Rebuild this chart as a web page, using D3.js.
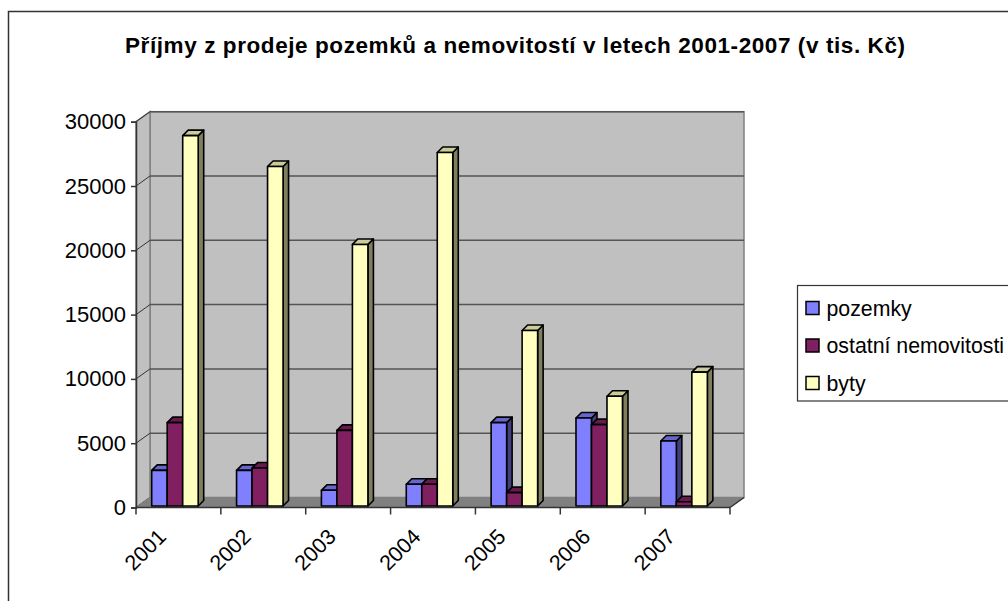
<!DOCTYPE html>
<html><head><meta charset="utf-8">
<script src="https://cdn.jsdelivr.net/npm/d3@7"></script>
<style>html,body{margin:0;padding:0;background:#fff;}svg{display:block;font-family:"Liberation Sans",Arial,sans-serif;}</style>
</head><body>
<svg id="c" width="1008" height="601"></svg>
<script>
const title = "Příjmy z prodeje pozemků a nemovitostí v letech 2001-2007 (v tis. Kč)";
const categories = ["2001","2002","2003","2004","2005","2006","2007"];
const seriesNames = ["pozemky","ostatní nemovitosti","byty"];
const pozemky   = [2770, 2770, 1220, 1690, 6480, 6840, 5050];
const ostatni   = [6480, 2950, 5880, 1690, 1040, 6330, 330];
const byty      = [28800, 26400, 20340, 27490, 13650, 8530, 10410];
const yTicks = [0, 5000, 10000, 15000, 20000, 25000, 30000];

const seriesValues = [pozemky, ostatni, byty];
const colors = [
  {front:"#8080FF", side:"#40407F", top:"#6666CC"},
  {front:"#802060", side:"#401030", top:"#661A4D"},
  {front:"#FFFFC0", side:"#7F7F60", top:"#CCCC9A"}
];

const svg = d3.select("#c");
// outer border
svg.append("rect").attr("x",8.5).attr("y",11.5).attr("width",1100).attr("height",700)
  .attr("fill","#fff").attr("stroke","#333").attr("stroke-width",1.5);

svg.append("text").attr("x",125).attr("y",53)
  .attr("font-weight","bold").attr("font-size",22.5).attr("fill","#000")
  .attr("textLength",780).attr("lengthAdjust","spacing").text(title);

const x0 = 136, x1 = 730;
const wx = 14, wy = -10; // wall depth
const x = d3.scaleBand().domain(categories).range([x0,x1]);
const y = d3.scaleLinear().domain([0,30000]).range([507.5,121.7]);

// back wall
svg.append("rect").attr("x",x0+wx).attr("y",y(30000)+wy).attr("width",x1-x0)
  .attr("height",y(0)-y(30000)).attr("fill","#C0C0C0").attr("stroke","#808080").attr("stroke-width",1.5);
// left wall
svg.append("polygon").attr("points",[[x0,y(30000)],[x0+wx,y(30000)+wy],[x0+wx,y(0)+wy],[x0,y(0)]].join(" "))
  .attr("fill","#C0C0C0").attr("stroke","#808080").attr("stroke-width",1.5);
// gridlines
yTicks.forEach(t=>{
  if(t>0){
    svg.append("line").attr("x1",x0+wx).attr("x2",x1+wx).attr("y1",y(t)+wy).attr("y2",y(t)+wy)
      .attr("stroke","#555").attr("stroke-width",1.5);
  }
  svg.append("line").attr("x1",x0).attr("x2",x0+wx).attr("y1",y(t)).attr("y2",y(t)+wy)
    .attr("stroke","#333").attr("stroke-width",1);
});
// floor
svg.append("polygon").attr("points",[[x0,y(0)],[x0+wx,y(0)+wy],[x1+wx,y(0)+wy],[x1,y(0)]].join(" "))
  .attr("fill","#808080").attr("stroke","#808080").attr("stroke-width",1);
svg.append("line").attr("x1",x1).attr("y1",y(0)).attr("x2",x1+wx).attr("y2",y(0)+wy)
  .attr("stroke","#333").attr("stroke-width",1.5);

// bars
const bw = 15.5, bOff = 15.7, pdx = 0, pdy = -1.5, dx = 5.5, dy = -5.5;
categories.forEach((c,ci)=>{
  seriesValues.forEach((vals,si)=>{
    const v = vals[ci];
    const xl = x(c) + bOff + si*bw + pdx;
    const xr = xl + bw;
    const yb = y(0) + pdy;
    const yt = y(v) + pdy;
    const col = colors[si];
    const g = svg.append("g").attr("stroke","#000").attr("stroke-width",1.6).attr("stroke-linejoin","round");
    g.append("polygon").attr("points",[[xr,yb],[xr+dx,yb+dy],[xr+dx,yt+dy],[xr,yt]].join(" ")).attr("fill",col.side);
    g.append("polygon").attr("points",[[xl,yt],[xl+dx,yt+dy],[xr+dx,yt+dy],[xr,yt]].join(" ")).attr("fill",col.top);
    g.append("rect").attr("x",xl).attr("y",yt).attr("width",bw).attr("height",Math.max(0,yb-yt)).attr("fill",col.front);
  });
});

// y axis
const yAxis = svg.append("g").attr("transform",`translate(${x0},0)`)
  .call(d3.axisLeft(y).tickValues(yTicks).tickSize(5).tickPadding(5).tickFormat(d3.format("d")));
yAxis.select(".domain").attr("stroke","#333").attr("stroke-width",1.5);
yAxis.selectAll(".tick line").attr("stroke","#333").attr("stroke-width",1.5);
yAxis.selectAll("text").attr("font-size",22).attr("fill","#000").attr("font-family","Liberation Sans, Arial, sans-serif");

// x axis
const xg = svg.append("g").attr("transform",`translate(0,${y(0)})`);
xg.append("line").attr("x1",x0).attr("x2",x1).attr("stroke","#333").attr("stroke-width",1.5);
d3.range(categories.length+1).forEach(i=>{
  const tx = x0 + i*x.step();
  xg.append("line").attr("x1",tx).attr("x2",tx).attr("y1",0).attr("y2",7).attr("stroke","#333").attr("stroke-width",1.5);
});
categories.forEach(c=>{
  const cx = x(c) + x.bandwidth()/2 - 11;
  svg.append("text").attr("transform",`translate(${cx},538) rotate(-45)`)
    .attr("text-anchor","end").attr("font-size",21.5).attr("fill","#000").text(c);
});

// legend
const lg = svg.append("g");
lg.append("rect").attr("x",797.5).attr("y",285.5).attr("width",260).attr("height",115.5)
  .attr("fill","#fff").attr("stroke","#333").attr("stroke-width",1.2);
seriesNames.forEach((n,i)=>{
  const cy = 308 + i*37.5;
  lg.append("rect").attr("x",806).attr("y",cy-6.5).attr("width",13).attr("height",13)
    .attr("fill",colors[i].front).attr("stroke","#000").attr("stroke-width",1.5);
  lg.append("text").attr("x",826.5).attr("y",cy+7.5).attr("font-size",21.3).attr("fill","#000").text(n);
});
</script>
</body></html>
